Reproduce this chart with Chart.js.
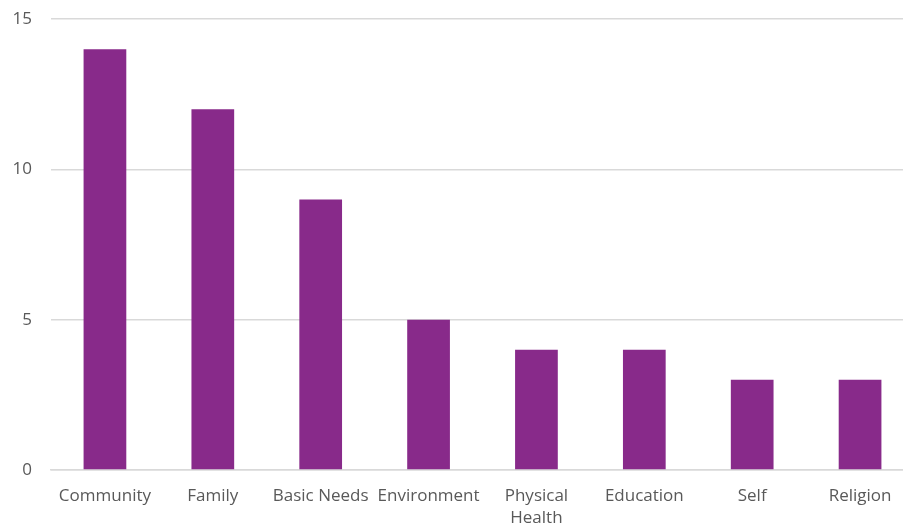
<!DOCTYPE html>
<html>
<head>
<meta charset="utf-8">
<script src="https://cdn.jsdelivr.net/npm/chart.js@4"></script>
<style>
  html, body { margin: 0; padding: 0; background: #fff; overflow: hidden; }
  #wrap { width: 914px; height: 539px; margin-top: -10px; }
</style>
</head>
<body>
<div id="wrap"><canvas id="barChart"></canvas></div>
<script>
const categories = ['Community', 'Family', 'Basic Needs', 'Environment', ['Physical', 'Health'], 'Education', 'Self', 'Religion'];
const counts = [14, 12, 9, 5, 4, 4, 3, 3];
const yTicks = [0, 5, 10, 15];

const ctx = document.getElementById('barChart').getContext('2d');

new Chart(ctx, {
    type: 'bar',
    data: {
        labels: categories,
        datasets: [{
            data: counts,
            backgroundColor: '#882a8a',
            barPercentage: 0.396,
            categoryPercentage: 1
        }]
    },
    options: {
        responsive: true,
        maintainAspectRatio: false,
        animation: false,
        layout: { padding: 0 },
        plugins: {
            legend: { display: false },
            tooltip: { enabled: false }
        },
        scales: {
            x: {
                grid: { display: false },
                border: { color: '#d9d9d9', width: 1.5 },
                ticks: {
                    color: '#595959',
                    font: { family: 'Open Sans', size: 17, lineHeight: 1.3 },
                    padding: 7,
                    maxRotation: 0,
                    autoSkip: false
                },
                afterFit: scale => { scale.height = 59; }
            },
            y: {
                min: 0,
                max: 15,
                afterBuildTicks: scale => { scale.ticks = yTicks.map(v => ({ value: v })); },
                grid: { color: '#d9d9d9', lineWidth: 1.5, drawTicks: false },
                border: { display: false },
                ticks: {
                    color: '#595959',
                    font: { family: 'Open Sans', size: 17 },
                    padding: 19
                },
                afterFit: scale => { scale.width = 51; }
            }
        }
    }
});
</script>
</body>
</html>
